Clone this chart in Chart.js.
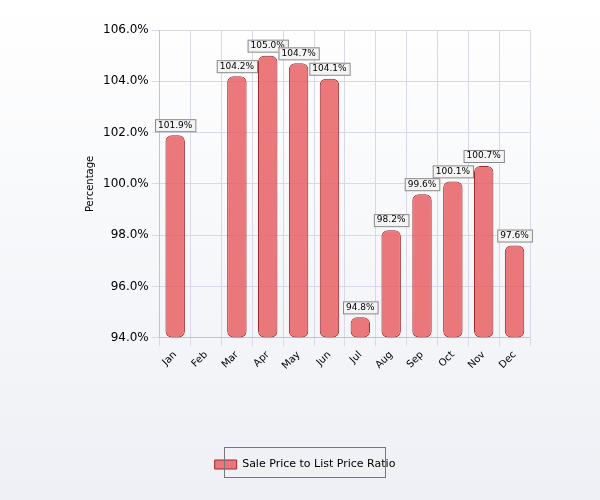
<!DOCTYPE html>
<html>
<head>
<meta charset="utf-8">
<script src="https://cdn.jsdelivr.net/npm/chart.js@4"></script>
<style>
  html, body { margin: 0; padding: 0; }
  body { width: 600px; height: 500px; background: linear-gradient(#ffffff, #eef0f5); }
  #wrap { width: 600px; height: 500px; }
</style>
</head>
<body>
<div id="wrap"><canvas id="myChart"></canvas></div>
<script>
// values (Feb has no bar)
const months = ['Jan', 'Feb', 'Mar', 'Apr', 'May', 'Jun', 'Jul', 'Aug', 'Sep', 'Oct', 'Nov', 'Dec'];
const ratio = [101.9, null, 104.2, 105.0, 104.7, 104.1, 94.8, 98.2, 99.6, 100.1, 100.7, 97.6];
const yTicks = [94, 96, 98, 100, 102, 104, 106];

// small boxed labels above each bar
const valueBoxes = {
  id: 'valueBoxes',
  afterDatasetsDraw(chart) {
    const ctx = chart.ctx;
    const meta = chart.getDatasetMeta(0);
    ctx.save();
    ctx.font = '9px "DejaVu Sans", sans-serif';
    ctx.textAlign = 'center';
    ctx.textBaseline = 'middle';
    meta.data.forEach((bar, i) => {
      const v = ratio[i];
      if (v == null) return;
      const txt = v.toFixed(1) + '%';
      const w = ctx.measureText(txt).width + 6;
      const x = bar.x, y = bar.y - 10;
      ctx.fillStyle = '#f4f4f4';
      ctx.strokeStyle = '#888';
      ctx.lineWidth = 1;
      ctx.fillRect(x - w / 2, y - 6, w, 12);
      ctx.strokeRect(x - w / 2 + 0.5, y - 6 + 0.5, w, 12);
      ctx.fillStyle = '#000';
      ctx.fillText(txt, x, y);
    });
    ctx.restore();
  }
};

// frame around the legend, like the original
const legendFrame = {
  id: 'legendFrame',
  afterDraw(chart) {
    const l = chart.legend;
    const ctx = chart.ctx;
    ctx.save();
    ctx.strokeStyle = '#777';
    ctx.fillStyle = 'rgba(0,0,0,0)';
    ctx.strokeRect(l.left + l.width / 2 - 80.5, l.top + 2.5, 161, l.height - 5);
    ctx.restore();
  }
};

const ctx = document.getElementById('myChart');
new Chart(ctx, {
  type: 'bar',
  data: {
    labels: months,
    datasets: [{
      label: 'Sale Price to List Price Ratio',
      data: ratio,
      backgroundColor: 'rgba(232, 96, 100, 0.85)',
      borderColor: '#9c2a2e',
      borderWidth: 1,
      borderRadius: 6,
      borderSkipped: false,
      barPercentage: 0.7,
      categoryPercentage: 0.9,
      base: 94
    }]
  },
  options: {
    responsive: true,
    maintainAspectRatio: false,
    animation: false,
    layout: { padding: { left: 80, right: 70, top: 30, bottom: 20 } },
    plugins: {
      legend: {
        position: 'bottom',
        labels: { font: { size: 11, family: 'DejaVu Sans' }, color: '#000', boxWidth: 22, boxHeight: 9, padding: 14 }
      },
      tooltip: { enabled: false }
    },
    scales: {
      y: {
        min: 94, max: 106,
        afterBuildTicks(axis) { axis.ticks = yTicks.map(v => ({ value: v })); },
        afterFit(axis) { axis.paddingBottom = 0; },
        ticks: { callback: v => v.toFixed(1) + '%', color: '#000', font: { size: 12, family: 'DejaVu Sans' } },
        grid: { color: '#d8d8e8' },
        title: { display: true, text: 'Percentage', font: { size: 10, family: 'DejaVu Sans' }, color: '#000' }
      },
      x: {
        afterFit(axis) { axis.height += 70; },
        ticks: { maxRotation: 45, minRotation: 45, color: '#000', font: { size: 10, family: 'DejaVu Sans' } },
        grid: { color: '#d8d8e8' }
      }
    }
  },
  plugins: [valueBoxes, legendFrame]
});
</script>
</body>
</html>
